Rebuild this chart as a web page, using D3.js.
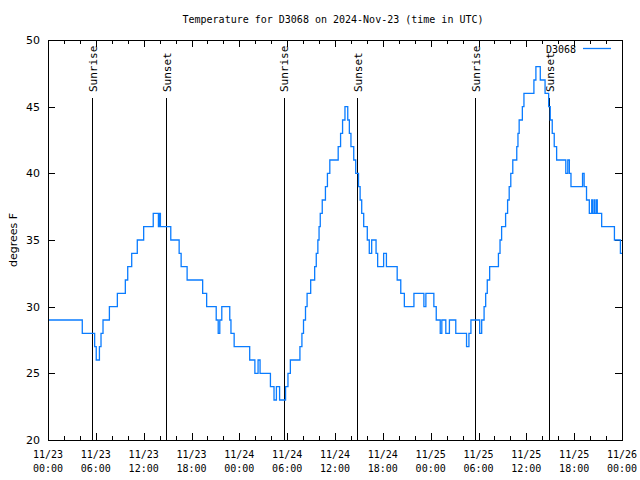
<!DOCTYPE html>
<html><head><meta charset="utf-8">
<script src="https://cdn.jsdelivr.net/npm/d3@7"></script>
<style>
html,body{margin:0;padding:0;background:#fff;}
text{font-family:"DejaVu Sans Mono",monospace;font-size:10px;fill:#000;}
</style></head>
<body>
<script>
// ---- data ----
const titleText = "Temperature for D3068 on 2024-Nov-23 (time in UTC)";
const seriesName = "D3068";
const yLabel = "degrees F";
const startUTC = Date.UTC(2024, 10, 23, 0, 0);
const endUTC = Date.UTC(2024, 10, 26, 0, 0);
// hours since 2024-11-23 00:00 UTC at which the reading changed, and the new reading
const stepHours = [0,4.3,5.85,6.05,6.45,6.65,6.9,7.7,8.7,9.7,10.0,10.5,11.2,12.0,13.2,13.85,14.0,14.1,15.4,16.45,16.7,17.45,19.4,19.9,21.1,21.35,21.55,21.8,22.8,22.95,23.35,25.3,25.95,26.35,26.6,27.9,28.35,28.65,29.05,29.8,30.1,30.4,31.6,31.85,32.05,32.3,32.5,32.95,33.45,33.65,33.85,34.0,34.15,34.4,34.8,35.05,35.35,36.4,36.7,36.95,37.25,37.6,37.8,38.0,38.35,38.6,38.95,39.15,39.35,39.6,40.05,40.3,40.6,41.15,41.35,42.1,42.45,43.8,44.25,44.7,45.9,47.15,47.4,48.4,48.7,49.2,49.4,49.9,50.35,51.15,52.5,52.8,53.05,54.15,54.4,54.7,54.9,55.1,55.4,56.5,56.7,56.9,57.4,57.65,57.85,58.05,58.3,58.8,58.95,59.1,59.5,59.7,60.95,61.2,61.75,62.35,62.8,63.0,63.25,63.5,63.8,64.95,65.2,65.4,65.6,67.05,67.25,67.55,67.9,68.2,68.3,68.5,68.6,68.8,68.9,69.45,71.05,71.8,72];
const stepTemps = [29,28,27,26,27,28,29,30,31,32,33,34,35,36,37,36,37,36,35,34,33,32,31,30,29,28,29,30,29,28,27,26,25,26,25,24,23,24,23,24,25,26,27,28,29,30,31,32,33,34,35,36,37,38,39,40,41,42,43,44,45,44,43,42,41,40,39,38,37,36,35,34,35,34,33,34,33,32,31,30,31,30,31,30,29,28,29,28,29,28,27,28,29,28,29,30,31,32,33,34,35,36,37,38,39,40,41,42,43,44,45,46,47,48,47,46,45,44,43,42,41,40,41,40,39,40,39,38,37,38,37,38,37,38,37,36,35,34,34];
const sunEventHours = [5.55, 14.8, 29.55, 38.8, 53.55, 62.8];
const sunEventNames = ["Sunrise","Sunset","Sunrise","Sunset","Sunrise","Sunset"];
const yTicks = [20,25,30,35,40,45,50];
const yDomain = [20, 50];

// ---- chart ----
const W = 640, H = 480;
const L = 48, R = 622, T = 40, B = 440;
const lineColor = "#0a7cff";

const svg = d3.select("body").append("svg").attr("width", W).attr("height", H);

const x = d3.scaleUtc().domain([new Date(startUTC), new Date(endUTC)]).range([L, R]);
const y = d3.scaleLinear().domain(yDomain).range([B, T]);

const data = stepHours.map((h, i) => ({t: new Date(startUTC + h * 3600e3), v: stepTemps[i]}));

// title
svg.append("text").attr("x", 333).attr("y", 23).attr("text-anchor", "middle").text(titleText);

// y label
svg.append("text").attr("transform", "translate(13,240) rotate(-90)")
  .attr("text-anchor", "middle").attr("dy", "0.35em")
  .style("font-family", "'DejaVu Sans',sans-serif").style("font-size", "11px").text(yLabel);

// axes via d3 axes
const majorX = x.ticks(d3.utcHour.every(6));
const minorX = x.ticks(d3.utcHour.every(2));
const g = svg.append("g");

g.append("g").attr("transform", `translate(0,${B})`)
  .call(d3.axisTop(x).tickValues(minorX).tickSize(4).tickFormat(""));
g.append("g").attr("transform", `translate(0,${B})`)
  .call(d3.axisTop(x).tickValues(majorX).tickSize(7).tickFormat(""));
g.append("g").attr("transform", `translate(0,${T})`)
  .call(d3.axisBottom(x).tickValues(minorX).tickSize(4).tickFormat(""));
g.append("g").attr("transform", `translate(0,${T})`)
  .call(d3.axisBottom(x).tickValues(majorX).tickSize(7).tickFormat(""));
g.append("g").attr("transform", `translate(${L},0)`)
  .call(d3.axisRight(y).tickValues(yTicks).tickSize(7).tickFormat(""));
g.append("g").attr("transform", `translate(${R},0)`)
  .call(d3.axisLeft(y).tickValues(yTicks).tickSize(7).tickFormat(""));
g.selectAll(".domain").remove();
g.selectAll("line").attr("stroke", "#000").attr("stroke-width", 1).attr("shape-rendering", "crispEdges");

// x tick labels (two lines)
const fmtD = d3.utcFormat("%m/%d"), fmtT = d3.utcFormat("%H:%M");
const xl = svg.append("g").selectAll("text").data(majorX).join("text")
  .attr("x", d => x(d)).attr("y", 458).attr("text-anchor", "middle");
xl.append("tspan").attr("x", d => x(d)).text(d => fmtD(d));
xl.append("tspan").attr("x", d => x(d)).attr("dy", 14).text(d => fmtT(d));

// y tick labels
svg.append("g").selectAll("text").data(yTicks).join("text")
  .attr("x", 40).attr("y", d => y(d)).attr("dy", "0.35em").attr("text-anchor", "end")
  .style("font-family", "'DejaVu Sans',sans-serif").style("font-size", "11px")
  .text(d => d);

// sunrise / sunset lines
const ev = svg.append("g").selectAll("g").data(sunEventHours.map((h, i) => ({t: new Date(startUTC + h * 3600e3), n: sunEventNames[i]}))).join("g");
ev.append("line").attr("x1", d => Math.round(x(d.t)) + 0.5).attr("x2", d => Math.round(x(d.t)) + 0.5)
  .attr("y1", 98).attr("y2", B).attr("stroke", "#000").attr("stroke-width", 1);
ev.append("text").attr("transform", d => `translate(${x(d.t) + 1},92) rotate(-90)`)
  .attr("dy", "0.35em").attr("text-anchor", "start")
  .style("font-size", "11px").text(d => d.n);

// data line
svg.append("path").datum(data)
  .attr("d", d3.line().x(d => x(d.t)).y(d => y(d.v)).curve(d3.curveStepAfter))
  .attr("fill", "none").attr("stroke", lineColor).attr("stroke-width", 1.3);

// frame
svg.append("rect").attr("x", L + 0.5).attr("y", T + 0.5).attr("width", R - L).attr("height", B - T)
  .attr("fill", "none").attr("stroke", "#000").attr("stroke-width", 1);

// legend
svg.append("text").attr("x", 576).attr("y", 49).attr("dy", "0.35em").attr("text-anchor", "end").text(seriesName);
svg.append("line").attr("x1", 583).attr("x2", 611).attr("y1", 48.5).attr("y2", 48.5)
  .attr("stroke", lineColor).attr("stroke-width", 1.3);
</script>
</body></html>
